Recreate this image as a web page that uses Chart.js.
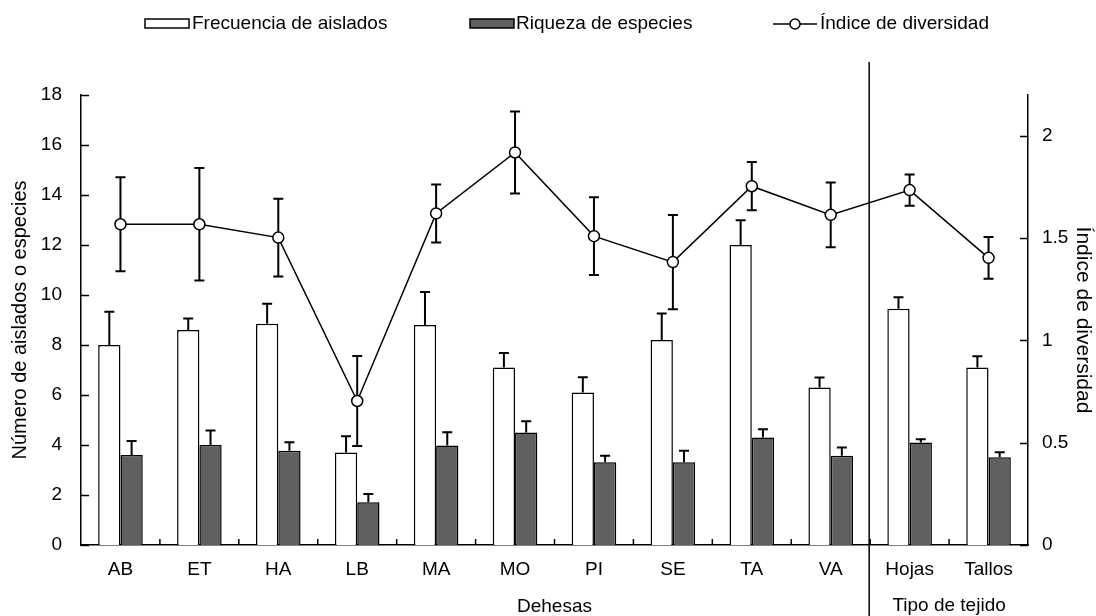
<!DOCTYPE html>
<html>
<head>
<meta charset="utf-8">
<script src="https://cdn.jsdelivr.net/npm/chart.js@4.4.0/dist/chart.umd.min.js"></script>
<style>
html,body{margin:0;padding:0;background:#fff;}
#wrap{width:1096px;height:616px;position:relative;}
</style>
</head>
<body>
<div id="wrap"><canvas id="c" width="1096" height="616"></canvas></div>
<script>
// ---- data ----
const categories = ['AB','ET','HA','LB','MA','MO','PI','SE','TA','VA','Hojas','Tallos'];
const frecuencia    = [8.0, 8.6, 8.85, 3.7, 8.8, 7.1, 6.1, 8.2, 12.0, 6.3, 9.45, 7.1];
const frecuenciaErr = [1.33, 0.46, 0.8, 0.65, 1.32, 0.58, 0.61, 1.06, 0.99, 0.4, 0.46, 0.45];
const riqueza       = [3.6, 4.0, 3.77, 1.71, 3.98, 4.5, 3.31, 3.31, 4.3, 3.57, 4.1, 3.51];
const riquezaErr    = [0.56, 0.58, 0.34, 0.33, 0.53, 0.45, 0.26, 0.46, 0.33, 0.33, 0.13, 0.2];
const diversidad    = [1.568, 1.568, 1.503, 0.704, 1.621, 1.919, 1.51, 1.383, 1.754, 1.614, 1.735, 1.404];
const diversidadErr = [0.23, 0.275, 0.19, 0.22, 0.142, 0.2, 0.19, 0.23, 0.118, 0.158, 0.076, 0.102];
const yTicks  = [0, 2, 4, 6, 8, 10, 12, 14, 16, 18];
const y1Ticks = [0, 0.5, 1, 1.5, 2];
const groupLabel1 = 'Dehesas';
const groupLabel2 = 'Tipo de tejido';

const FONT = "'Liberation Sans', Arial, sans-serif";
const FS = 19;
Chart.defaults.font.family = FONT;
Chart.defaults.font.size = FS;
Chart.defaults.color = '#000';

function drawErrors(chart, meta, values, errs, symmetric) {
  const ctx = chart.ctx;
  const scale = chart.scales[meta.yAxisID];
  ctx.save();
  ctx.strokeStyle = '#000';
  ctx.lineWidth = 2;
  meta.data.forEach((el, i) => {
    const x = el.x;
    const top = scale.getPixelForValue(values[i] + errs[i]);
    const bottom = symmetric ? scale.getPixelForValue(values[i] - errs[i]) : el.y;
    ctx.beginPath();
    ctx.moveTo(x, top); ctx.lineTo(x, bottom);
    ctx.moveTo(x - 5, top); ctx.lineTo(x + 5, top);
    if (symmetric) { ctx.moveTo(x - 5, bottom); ctx.lineTo(x + 5, bottom); }
    ctx.stroke();
  });
  ctx.restore();
}

const errorPlugin = {
  id: 'errorPlugin',
  beforeDatasetDraw(chart, args) {
    const ds = chart.data.datasets[args.index];
    if (ds.type === 'line') drawErrors(chart, args.meta, ds.data, ds.errorData, true);
  },
  afterDatasetDraw(chart, args) {
    const ds = chart.data.datasets[args.index];
    if (ds.type !== 'line') drawErrors(chart, args.meta, ds.data, ds.errorData, false);
  }
};

const decorPlugin = {
  id: 'decorPlugin',
  afterDraw(chart) {
    const ctx = chart.ctx;
    const a = chart.chartArea;
    const xs = chart.scales.x, ys = chart.scales.y, y1 = chart.scales.y1;
    ctx.save();
    ctx.strokeStyle = '#000';
    ctx.lineWidth = 1.5;
    ctx.beginPath();
    ys.ticks.forEach(t => { const p = Math.round(ys.getPixelForValue(t.value)) + 0.5; ctx.moveTo(a.left, p); ctx.lineTo(a.left + 8, p); });
    y1.ticks.forEach(t => { const p = Math.round(y1.getPixelForValue(t.value)) + 0.5; ctx.moveTo(a.right, p); ctx.lineTo(a.right - 8, p); });
    for (let i = 0; i < categories.length - 1; i++) {
      const bx = (xs.getPixelForValue(i) + xs.getPixelForValue(i + 1)) / 2;
      ctx.moveTo(bx, a.bottom); ctx.lineTo(bx, a.bottom - 6);
    }
    ctx.stroke();
    // separator between groups
    const sep = (xs.getPixelForValue(9) + xs.getPixelForValue(10)) / 2 - 1;
    ctx.beginPath();
    ctx.moveTo(sep, 62); ctx.lineTo(sep, chart.height);
    ctx.stroke();
    // second group label
    ctx.fillStyle = '#000';
    ctx.font = FS + 'px ' + FONT;
    ctx.textAlign = 'center';
    ctx.textBaseline = 'middle';
    const gx = (xs.getPixelForValue(10) + xs.getPixelForValue(11)) / 2;
    ctx.fillText(groupLabel2, gx, 606);
    // legend
    const ds = chart.data.datasets;
    ctx.textAlign = 'left';
    const ly = 24;
    // item 1: Frecuencia (white box)
    ctx.fillStyle = '#fff';
    ctx.fillRect(145, 19, 44, 9);
    ctx.strokeRect(145, 19, 44, 9);
    ctx.fillStyle = '#000';
    ctx.fillText(ds[1].label, 192, ly);
    // item 2: Riqueza (dark box)
    ctx.fillStyle = '#606060';
    ctx.fillRect(470, 19, 44, 9);
    ctx.strokeRect(470, 19, 44, 9);
    ctx.fillStyle = '#000';
    ctx.fillText(ds[2].label, 516, ly);
    // item 3: line with circle
    ctx.beginPath();
    ctx.moveTo(773, 24); ctx.lineTo(817, 24);
    ctx.stroke();
    ctx.beginPath();
    ctx.arc(795, 24, 5, 0, Math.PI * 2);
    ctx.fillStyle = '#fff';
    ctx.fill();
    ctx.stroke();
    ctx.fillStyle = '#000';
    ctx.fillText(ds[0].label, 820, ly);
    ctx.restore();
  }
};

new Chart(document.getElementById('c'), {
  type: 'bar',
  data: {
    labels: categories,
    datasets: [
      {
        type: 'line', label: 'Índice de diversidad', data: diversidad, errorData: diversidadErr,
        yAxisID: 'y1', order: 0, borderColor: '#000', borderWidth: 1.5, tension: 0, fill: false,
        pointRadius: 5.5, pointBackgroundColor: '#fff', pointBorderColor: '#000', pointBorderWidth: 1.5
      },
      {
        label: 'Frecuencia de aislados', data: frecuencia, errorData: frecuenciaErr,
        yAxisID: 'y', order: 1, backgroundColor: '#fff', borderColor: '#000', borderWidth: 1.5,
        categoryPercentage: 0.565, barPercentage: 1
      },
      {
        label: 'Riqueza de especies', data: riqueza, errorData: riquezaErr,
        yAxisID: 'y', order: 2, backgroundColor: '#606060', borderColor: '#000', borderWidth: 1.5,
        categoryPercentage: 0.565, barPercentage: 1
      }
    ]
  },
  options: {
    responsive: false,
    animation: false,
    layout: { padding: { top: 95, left: 0, right: 0, bottom: 0 } },
    plugins: { legend: { display: false }, tooltip: { enabled: false } },
    scales: {
      x: {
        grid: { display: false, drawTicks: false },
        border: { display: true, color: '#000', width: 1.5 },
        ticks: { color: '#000', font: { size: FS }, padding: 13, maxRotation: 0 },
        title: { display: true, text: groupLabel1, color: '#000', font: { size: FS, lineHeight: 1 }, padding: { top: 0, bottom: 0 } },
        afterFit: s => { s.height = 71; }
      },
      y: {
        position: 'left', min: 0, max: 18,
        afterBuildTicks: s => { s.ticks = yTicks.map(v => ({ value: v })); },
        grid: { display: false, drawTicks: false },
        border: { display: true, color: '#000', width: 1.5 },
        ticks: { color: '#000', font: { size: FS }, padding: 19 },
        title: { display: true, text: 'Número de aislados o especies', color: '#000', font: { size: 20, lineHeight: 1 }, padding: { top: 10, bottom: 0 } },
        afterFit: s => { s.width = 81; }
      },
      y1: {
        position: 'right', min: 0, max: 2.2,
        afterBuildTicks: s => { s.ticks = y1Ticks.map(v => ({ value: v })); },
        grid: { display: false, drawTicks: false },
        border: { display: true, color: '#000', width: 1.5 },
        ticks: { color: '#000', font: { size: FS }, padding: 14, callback: v => String(v) },
        title: { display: true, text: 'Índice de diversidad', color: '#000', font: { size: 21, lineHeight: 1 }, padding: { top: 3, bottom: 0 } },
        afterFit: s => { s.width = 68; }
      }
    }
  },
  plugins: [errorPlugin, decorPlugin]
});
</script>
</body>
</html>
